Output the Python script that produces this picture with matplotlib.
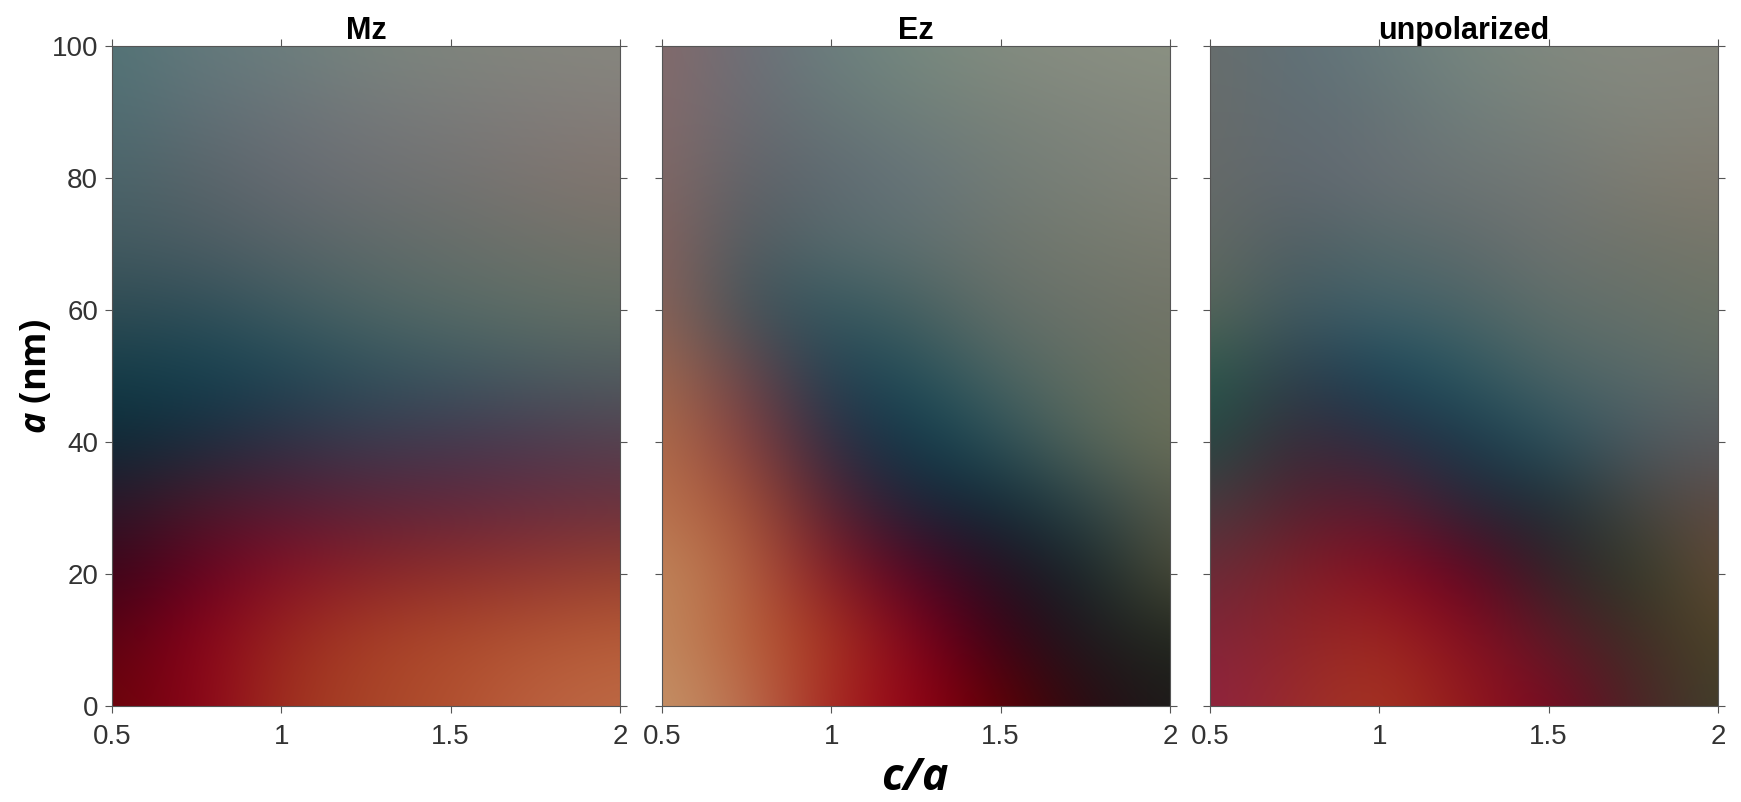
import numpy as np
import matplotlib
matplotlib.use("Agg")
import matplotlib.pyplot as plt
from matplotlib.colors import to_rgb

plt.rcParams['font.family'] = ['Liberation Sans', 'DejaVu Sans']
plt.rcParams['mathtext.fontset'] = 'custom'
plt.rcParams['mathtext.bfit'] = 'Open Sans:italic:bold'
plt.rcParams['mathtext.it'] = 'Open Sans:italic:bold'
plt.rcParams['mathtext.rm'] = 'Open Sans:bold'

c_over_a = [0.5, 0.75, 1.0, 1.25, 1.5, 1.75, 2.0]
a_nm = [100, 90, 80, 70, 60, 50, 40, 30, 20, 10, 0]
xticks = [0.5, 1, 1.5, 2]
xticklabels = ['0.5', '1', '1.5', '2']
yticks = [0, 20, 40, 60, 80, 100]
titles = ['Mz', 'Ez', 'unpolarized']

mz = [
 '527376 63797c 6b7e7e 78847e 7f857d 84867e 87877f',
 '4f6d72 5f6f76 6a7378 74787a 7a7b7a 807c7a 847e7a',
 '4a646a 586469 656a72 6e7073 737372 7c7470 82756e',
 '425a60 4b5c63 566367 5f6a6a 676e6a 6e716a 73736a',
 '2f4b53 2f4e58 3d5a60 4c6464 566a66 5e6e66 646f65',
 '143c48 14404f 1f4655 2f505b 3b5660 475a60 4f5c60',
 '0c2a36 1a2c3e 2f3044 3a3a4e 42384e 4b3a50 53404f',
 '2a1628 4a1828 561a34 5e2238 63263c 6a2c3e 6c303e',
 '3a0418 650020 880f25 8a2228 902d2a 953530 98402f',
 '5a0212 8a001a 98261e a83e26 ad4a2c b25533 b75c38',
 '6a0508 8a001a a0301e a84528 b2502f bb6040 bd6a45',
]
ez = [
 '856a6a 6c6e78 6a7f7f 76897f 838c80 898e82 8b9283',
 '846a6a 686a72 667677 6f7f7a 798279 80867d 85897d',
 '826865 5f6268 5f6a72 66747a 727c76 7a8078 828479',
 '85625e 4f5a60 566a6c 5f7070 6d746e 747a6e 7a7c70',
 '8c6358 3f5058 345860 466060 626e68 6c726a 727568',
 'a06a50 6a4048 1e4052 24505a 4a6462 626e62 6d7260',
 'b06e4a 8a3c3e 2c2a42 0c3a4a 2c5058 54655a 6a6f58',
 'ba7450 a85035 581c32 1a2236 0e2a36 2c4448 56594a',
 'c0885c b46040 8a1a24 540024 22101f 122529 4c4c38',
 'c28a60 b8603a a8341f 84001c 3a0016 1a1a1f 22281f',
 'c59468 bb7050 a8281f 950018 600000 280a14 1c1c1a',
]
unpol = [
 '686e6c 5f7078 687b7d 76867f 81897f 878a80 87887e',
 '686c6a 5f6c74 657275 6f7e7c 7a817a 81857c 84847a',
 '666a68 5f6870 686e75 6d7574 727876 7d7c72 827c70',
 '626a64 515e64 556a6a 5f6a6c 6d7270 70746a 76766a',
 '586658 3e5860 40606a 4a6466 5e6e6a 66706a 6c7466',
 '2b5a4c 2f3d4c 174558 2a5660 4a6264 566a6a 636c66',
 '244a44 3a2a38 2b2d42 17384a 28505c 4a5860 585a60',
 '4a3b40 55202f 601a30 2a2435 1a2c34 454440 5f4a42',
 '6a2b38 802028 8a0c22 6a0020 302028 2c3a28 634a35',
 '82253a 8f2429 a02a20 8a0c20 601828 3a2c25 4e4428',
 '8f2340 9a2a2c a83822 951a1c 7c0522 4a2226 40402c',
]
panels = [mz, ez, unpol]


def to_grid(rows):
    return np.array([[to_rgb('#' + h) for h in r.split()] for r in rows])


W, H = 1741, 802
fig = plt.figure(figsize=(W / 100, H / 100), dpi=100, facecolor='white')
lefts = [112, 662, 1210]
aw, top, bottom = 508, 46, 706
dx = c_over_a[1] - c_over_a[0]
dy = a_nm[0] - a_nm[1]
for i, (rows, left) in enumerate(zip(panels, lefts)):
    ax = fig.add_axes([left / W, 1 - bottom / H, aw / W, (bottom - top) / H])
    ax.imshow(to_grid(rows), interpolation='bicubic', aspect='auto', origin='upper',
              extent=(c_over_a[0] - dx / 2, c_over_a[-1] + dx / 2,
                      a_nm[-1] - dy / 2, a_nm[0] + dy / 2))
    ax.set_xlim(c_over_a[0], c_over_a[-1])
    ax.set_ylim(a_nm[-1], a_nm[0])
    ax.set_xticks(xticks, xticklabels)
    ax.set_yticks(yticks)
    ax.tick_params(direction='out', length=5, width=0.8, color='#555555', labelcolor='#333333',
                   labelsize=20, top=True, right=True, left=True, bottom=True,
                   labelleft=(i == 0), pad=5)
    ax.tick_params(axis='x', pad=8)
    for s in ax.spines.values():
        s.set_color('#555555')
        s.set_linewidth(0.8)
    ax.set_title(titles[i], fontsize=22, fontweight='bold', color='black', pad=5)

fig.text(915 / W, 1 - 778 / H, r'$\mathbfit{c/a}$', fontsize=32, ha='center', va='center',
         color='black')
fig.text(37 / W, 1 - 376 / H, r'$\mathbfit{a}$ (nm)', fontsize=26, rotation=90, ha='center',
         va='center', family='Open Sans', fontweight='bold', color='black')

fig.savefig('out.png', dpi=100, facecolor='white')
